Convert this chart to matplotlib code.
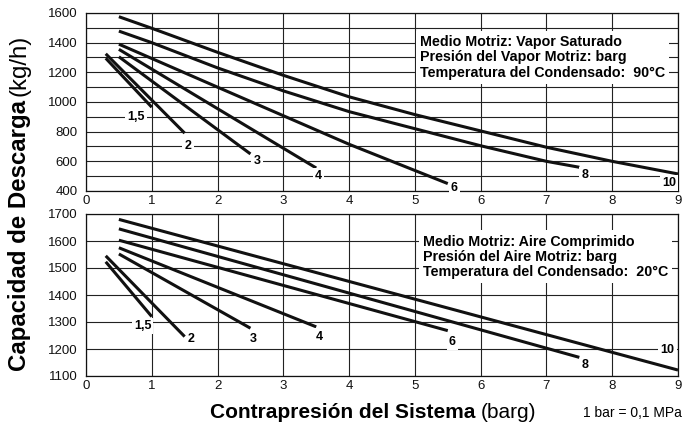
import matplotlib
matplotlib.use("Agg")
import matplotlib.pyplot as plt
from matplotlib.ticker import MultipleLocator

plt.rcParams['font.family'] = ['Liberation Sans', 'DejaVu Sans']

# pressure of the motive medium (barg) -> curve labels
labels = ["1,5", "2", "3", "4", "6", "8", "10"]

# steam as motive medium, condensate at 90 C
steam_x = [
    [0.3, 1.0],
    [0.3, 1.5],
    [0.5, 2.5],
    [0.5, 3.5],
    [0.5, 2.0, 4.0, 5.5],
    [0.5, 1.0, 2.0, 3.0, 4.0, 5.0, 6.0, 7.0, 7.5],
    [0.5, 1.0, 2.0, 3.0, 4.0, 5.0, 6.0, 7.0, 8.0, 9.0],
]
steam_y = [
    [1295, 965],
    [1325, 790],
    [1305, 650],
    [1355, 555],
    [1390, 1100, 715, 450],
    [1478, 1400, 1230, 1075, 935, 820, 705, 600, 560],
    [1575, 1497, 1335, 1180, 1035, 915, 805, 695, 600, 515],
]

# compressed air as motive medium, condensate at 20 C
air_x = [
    [0.3, 1.0],
    [0.3, 1.5],
    [0.5, 2.5],
    [0.5, 3.5],
    [0.5, 5.5],
    [0.5, 7.5],
    [0.5, 9.0],
]
air_y = [
    [1523, 1320],
    [1545, 1246],
    [1552, 1277],
    [1575, 1282],
    [1603, 1268],
    [1645, 1169],
    [1680, 1122],
]

# where the curve labels sit
steam_lab_x = [0.76, 1.55, 2.6, 3.53, 5.6, 7.58, 8.86]
steam_lab_y = [900, 700, 600, 500, 418, 510, 455]
air_lab_x = [0.86, 1.6, 2.55, 3.55, 5.57, 7.59, 8.84]
air_lab_y = [1285, 1236, 1236, 1246, 1227, 1141, 1195]

steam_note = ("Medio Motriz: Vapor Saturado\n"
              "Presión del Vapor Motriz: barg\n"
              "Temperatura del Condensado:  90°C")
air_note = ("Medio Motriz: Aire Comprimido\n"
            "Presión del Aire Motriz: barg\n"
            "Temperatura del Condensado:  20°C")

W, H = 684, 434
fig = plt.figure(figsize=(W / 100, H / 100), dpi=100)


def box(l, t, r, b):
    return [l / W, 1 - b / H, (r - l) / W, (b - t) / H]


ax1 = fig.add_axes(box(86, 13, 678, 191))
ax2 = fig.add_axes(box(86, 214, 678, 376))

white = dict(facecolor='white', edgecolor='none', pad=1.5)


def draw(ax, xs, ys, lx, ly, ylim, major, note, note_xy):
    for x, y in zip(xs, ys):
        ax.plot(x, y, color='#111111', lw=2.2, solid_capstyle='butt', zorder=3)
    for lab, x, y in zip(labels, lx, ly):
        ax.text(x, y, lab, fontsize=9, fontweight='bold', ha='center',
                va='center', bbox=white, zorder=4)
    ax.set_xlim(0, 9)
    ax.set_ylim(*ylim)
    ax.xaxis.set_major_locator(MultipleLocator(1))
    ax.yaxis.set_major_locator(MultipleLocator(major))
    ax.yaxis.set_minor_locator(MultipleLocator(100))
    ax.grid(True, which='both', color='#222222', lw=0.8, zorder=1)
    ax.tick_params(which='both', length=0, labelsize=9.5, colors='#111111')
    ax.tick_params(axis='y', pad=6)
    ax.tick_params(axis='x', pad=3)
    for s in ax.spines.values():
        s.set_color('#111111')
        s.set_linewidth(0.9)
    ax.text(note_xy[0], note_xy[1], note, fontsize=10.3, fontweight='bold',
            ha='left', va='center', linespacing=1.1,
            bbox=dict(facecolor='white', edgecolor='none', pad=3), zorder=4)


draw(ax1, steam_x, steam_y, steam_lab_x, steam_lab_y, (400, 1600), 200,
     steam_note, (5.08, 1300))
draw(ax2, air_x, air_y, air_lab_x, air_lab_y, (1100, 1700), 100,
     air_note, (5.12, 1542))

# axis titles: bold part + regular part
fig.canvas.draw()
r = fig.canvas.get_renderer()

yb = fig.text(20 / W, 1 - 371 / H, "Capacidad de Descarga", fontsize=17.3,
              fontweight='bold', rotation=90, ha='center', va='bottom')
ext = yb.get_window_extent(r)
fig.text(20 / W, ext.y1 / H + 4 / H, "(kg/h)", fontsize=17.3, rotation=90,
         ha='center', va='bottom')

xb = fig.text(210 / W, 1 - 412 / H, "Contrapresión del Sistema", fontsize=15,
              fontweight='bold', ha='left', va='center')
ext = xb.get_window_extent(r)
fig.text(ext.x1 / W + 5 / W, 1 - 412 / H, "(barg)", fontsize=15,
         ha='left', va='center')

fig.text(682 / W, 1 - 413 / H, "1 bar = 0,1 MPa", fontsize=10, ha='right',
         va='center')

fig.savefig("out.png", dpi=100)
